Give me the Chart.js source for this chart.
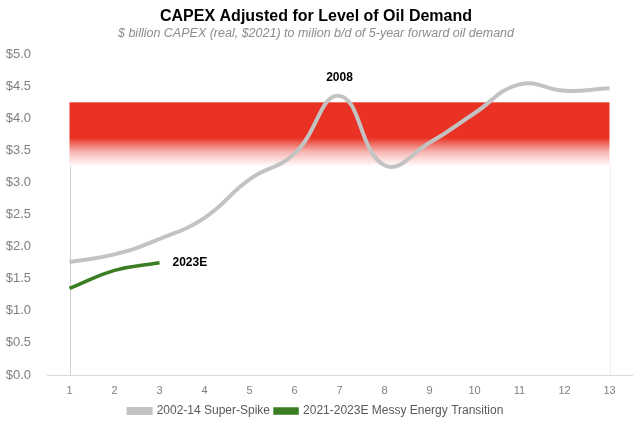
<!DOCTYPE html>
<html><head><meta charset="utf-8">
<script src="https://cdn.jsdelivr.net/npm/chart.js@4.4.0/dist/chart.umd.min.js"></script>
<style>html,body{margin:0;padding:0;background:#fff}#wrap{width:640px;height:427px}</style>
</head><body><div id="wrap"><canvas id="c" width="640" height="427"></canvas></div>
<script>
const categories = ['1','2','3','4','5','6','7','8','9','10','11','12','13'];
const superSpike = [1.76, 1.88, 2.12, 2.45, 3.05, 3.45, 4.35, 3.27, 3.62, 4.08, 4.53, 4.43, 4.47];
const messyTransition = [1.35, 1.63, 1.75];
const yTicks = [0, 0.5, 1, 1.5, 2, 2.5, 3, 3.5, 4, 4.5, 5];
const band = { fromCat: '1', toCat: '13', top: 4.25, solidTo: 3.7, bottom: 3.25 };
const annotations = [
  { text: '2008', cat: '7', value: 4.35, dx: 0, dy: -18, align: 'center' },
  { text: '2023E', cat: '3', value: 1.75, dx: 13, dy: 0, align: 'left' }
];

const bandPlugin = {
  id: 'band',
  beforeDatasetsDraw(chart) {
    const { ctx, scales: { x, y } } = chart;
    const x0 = x.getPixelForValue(categories.indexOf(band.fromCat));
    const x1 = x.getPixelForValue(categories.indexOf(band.toCat));
    const yt = y.getPixelForValue(band.top);
    const ys = y.getPixelForValue(band.solidTo);
    const yb = y.getPixelForValue(band.bottom);
    const g = ctx.createLinearGradient(0, yt, 0, yb);
    const s = (ys - yt) / (yb - yt);
    g.addColorStop(0, 'rgb(233,50,36)');
    g.addColorStop(s, 'rgb(233,50,36)');
    g.addColorStop(s + (1 - s) * 0.5, 'rgba(233,50,36,0.35)');
    g.addColorStop(1, 'rgba(233,50,36,0)');
    ctx.save();
    ctx.fillStyle = g;
    ctx.fillRect(x0, yt, x1 - x0, yb - yt);
    ctx.strokeStyle = '#d0d0d0';
    ctx.lineWidth = 1;
    ctx.beginPath();
    ctx.moveTo(Math.round(x0) + 0.5, yb); ctx.lineTo(Math.round(x0) + 0.5, y.bottom);
    ctx.stroke();
    ctx.strokeStyle = '#eeeeee';
    ctx.beginPath();
    ctx.moveTo(Math.round(x1) + 0.5, yb); ctx.lineTo(Math.round(x1) + 0.5, y.bottom);
    ctx.stroke();
    ctx.restore();
  },
  afterDatasetsDraw(chart) {
    const { ctx, scales: { x, y } } = chart;
    ctx.save();
    ctx.font = 'bold 12px "Liberation Sans", Arial, sans-serif';
    ctx.fillStyle = '#000';
    ctx.textBaseline = 'middle';
    annotations.forEach(a => {
      ctx.textAlign = a.align;
      ctx.fillText(a.text, x.getPixelForValue(categories.indexOf(a.cat)) + a.dx, y.getPixelForValue(a.value) + a.dy);
    });
    ctx.restore();
  }
};

new Chart(document.getElementById('c'), {
  type: 'line',
  data: {
    labels: categories,
    datasets: [
      { label: '2002-14 Super-Spike', data: superSpike, borderColor: '#c3c3c3', backgroundColor: '#c3c3c3', borderWidth: 4, pointRadius: 0, tension: 0.45, fill: false },
      { label: '2021-2023E Messy Energy Transition', data: messyTransition, borderColor: '#3a7d22', backgroundColor: '#3a7d22', borderWidth: 3.5, pointRadius: 0, tension: 0.45, fill: false }
    ]
  },
  options: {
    responsive: false,
    animation: false,
    layout: { padding: { left: 0, right: 8, top: 0, bottom: 0 } },
    plugins: {
      title: { display: true, text: 'CAPEX Adjusted for Level of Oil Demand', color: '#000', font: { family: '"Liberation Sans", Arial, sans-serif', size: 16, weight: 'bold' }, padding: { top: 7, bottom: 0 } },
      subtitle: { display: true, text: '$ billion CAPEX (real, $2021) to milion b/d of 5-year forward oil demand', color: '#8c8c8c', font: { family: '"Liberation Sans", Arial, sans-serif', size: 12.5, style: 'italic' }, padding: { top: 0, bottom: 13 } },
      legend: { position: 'bottom', labels: { color: '#595959', font: { family: '"Liberation Sans", Arial, sans-serif', size: 12 }, boxWidth: 22, boxHeight: 4, padding: 5 } },
      tooltip: { enabled: false }
    },
    scales: {
      x: {
        offset: true,
        afterFit: s => { s.height = 25; },
        grid: { display: false, drawTicks: false },
        border: { display: true, color: '#d9d9d9', width: 1 },
        ticks: { color: '#7f7f7f', font: { family: '"Liberation Sans", Arial, sans-serif', size: 11 }, padding: 9 }
      },
      y: {
        min: 0, max: 5,
        afterBuildTicks: s => { s.ticks = yTicks.map(v => ({ value: v })); },
        afterFit: s => { s.width = 47; },
        grid: { display: false, drawTicks: false },
        border: { display: false },
        ticks: { color: '#7f7f7f', font: { family: '"Liberation Sans", Arial, sans-serif', size: 13 }, padding: 16, callback: v => '$' + Number(v).toFixed(1) }
      }
    }
  },
  plugins: [bandPlugin]
});
</script></body></html>
